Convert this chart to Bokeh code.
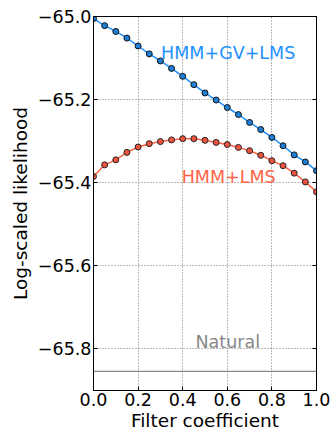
from bokeh.plotting import figure
from bokeh.models import LinearAxis, Label, Range1d, FixedTicker, Span
from bokeh.embed import file_html
from bokeh.resources import INLINE

coef = [0.0, 0.05, 0.1, 0.15, 0.2, 0.25, 0.3, 0.35, 0.4, 0.45, 0.5,
        0.55, 0.6, 0.65, 0.7, 0.75, 0.8, 0.85, 0.9, 0.95, 1.0]
hmm_gv_lms = [-65.005, -65.022, -65.036, -65.052, -65.071, -65.090, -65.107,
              -65.125, -65.144, -65.164, -65.184, -65.201, -65.219, -65.236,
              -65.255, -65.272, -65.291, -65.311, -65.333, -65.350, -65.371]
hmm_lms = [-65.385, -65.357, -65.345, -65.327, -65.314, -65.306, -65.301,
           -65.297, -65.294, -65.294, -65.298, -65.303, -65.308, -65.315,
           -65.323, -65.334, -65.347, -65.359, -65.377, -65.398, -65.422]
natural = -65.854
x_ticks = [0.0, 0.2, 0.4, 0.6, 0.8, 1.0]
y_ticks = [-65.8, -65.6, -65.4, -65.2, -65.0]

FONT = "DejaVu Sans"

p = figure(width=330, height=433, output_backend="svg", toolbar_location=None,
           x_range=Range1d(0, 1), y_range=Range1d(-65.9, -65.0),
           min_border_left=93, min_border_right=14, min_border_top=16,
           min_border_bottom=42)
p.background_fill_color = "white"
p.border_fill_color = "white"
p.outline_line_color = "black"
p.outline_line_width = 1

for ax in (p.xaxis[0], p.yaxis[0]):
    ax.major_label_text_font = FONT
    ax.major_label_text_font_size = "17.5px"
    ax.major_label_text_color = "black"
    ax.axis_label_text_font = FONT
    ax.axis_label_text_font_size = "18.5px"
    ax.axis_label_text_font_style = "normal"
    ax.axis_label_text_color = "black"
    ax.major_tick_in = 4
    ax.major_tick_out = 0
    ax.minor_tick_line_color = None
    ax.axis_line_color = "black"

p.xaxis[0].ticker = FixedTicker(ticks=x_ticks)
p.yaxis[0].ticker = FixedTicker(ticks=y_ticks)
p.xaxis[0].axis_label = "Filter coefficient"
p.yaxis[0].axis_label = "Log-scaled likelihood"
p.xaxis[0].major_label_standoff = 2
p.xaxis[0].axis_label_standoff = 1
p.yaxis[0].major_label_standoff = 2
p.yaxis[0].axis_label_standoff = 4
p.yaxis[0].major_label_overrides = {t: ("%.1f" % t).replace("-", "\u2212") for t in y_ticks}
p.xaxis[0].major_label_overrides = {t: "%.1f" % t for t in x_ticks}

right = LinearAxis(ticker=FixedTicker(ticks=y_ticks), major_tick_in=4, major_tick_out=0,
                   minor_tick_line_color=None,
                   major_label_overrides={t: "" for t in y_ticks},
                   axis_line_color="black")
p.add_layout(right, "right")

p.xgrid.ticker = FixedTicker(ticks=x_ticks)
p.ygrid.ticker = FixedTicker(ticks=y_ticks)
p.grid.grid_line_color = "#555555"
p.grid.grid_line_dash = "1 2"
p.grid.grid_line_alpha = 0.8

p.add_layout(Span(location=natural, dimension="width", line_color="#888888", line_width=1.3))

p.line(coef, hmm_gv_lms, line_color="#1E90FF", line_width=1.5)
p.scatter(coef, hmm_gv_lms, size=6, fill_color="#1F7FD6", line_color="#111111", line_width=1)
p.line(coef, hmm_lms, line_color="#FF6347", line_width=1.5)
p.scatter(coef, hmm_lms, size=6, fill_color="#EC5440", line_color="#222222", line_width=1)

for txt, x, y, col in [("HMM+GV+LMS", 0.604, -65.089, "#1E90FF"),
                       ("HMM+LMS", 0.606, -65.386, "#FF6347"),
                       ("Natural", 0.602, -65.783, "#888888")]:
    p.add_layout(Label(x=x, y=y, text=txt, text_color=col, text_font=FONT,
                       text_font_size="17.5px", text_align="center", text_baseline="middle"))

open("out.html", "w").write(file_html(p, INLINE))
